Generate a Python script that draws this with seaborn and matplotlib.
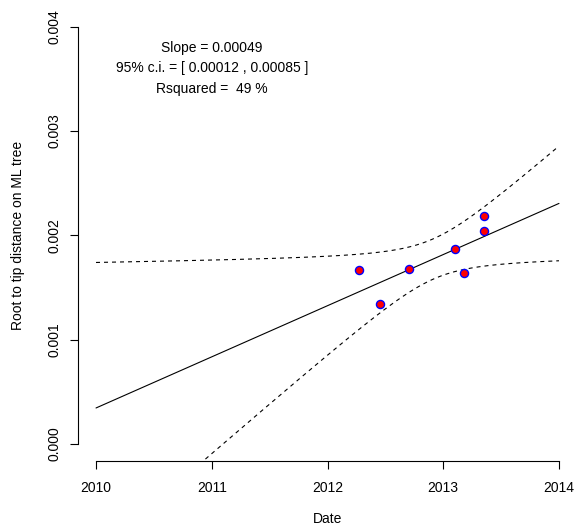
import numpy as np
import pandas as pd
import matplotlib
matplotlib.use("Agg")
import matplotlib.pyplot as plt
import seaborn as sns

# Sampling dates and root-to-tip distances
dates = [2012.27, 2012.70, 2012.45, 2013.10, 2013.18, 2013.35, 2013.35]
distances = [0.001666, 0.001676, 0.00134, 0.00187, 0.00164, 0.002185, 0.00204]

x_ticks = [2010, 2011, 2012, 2013, 2014]
y_ticks = [0.000, 0.001, 0.002, 0.003, 0.004]
annotation_lines = [
    "Slope = 0.00049",
    "95% c.i. = [ 0.00012 , 0.00085 ]",
    "Rsquared =  49 %",
]
annotation_y = [0.0038, 0.0036, 0.0034]

sns.set_theme(style="white")
plt.rcParams["font.family"] = ["Liberation Sans", "DejaVu Sans"]
plt.rcParams["text.color"] = "black"

W, H = 574, 526
fig = plt.figure(figsize=(W / 100, H / 100), dpi=100)
# plot region in pixels: x 77.5..577.5, y 10..460.7 (from top)
ax = fig.add_axes([77.5 / W, (H - 460.7) / H, 500 / W, 450.7 / H])

df = pd.DataFrame({"date": dates, "dist": distances})

# least-squares fit with a 95% confidence band for the mean
x = np.asarray(dates)
y = np.asarray(distances)
n = len(x)
slope, intercept = np.polyfit(x, y, 1)
resid = y - (slope * x + intercept)
s = np.sqrt(np.sum(resid ** 2) / (n - 2))
sxx = np.sum((x - x.mean()) ** 2)
t975 = 2.5706  # Student t, 5 degrees of freedom
grid = np.linspace(2010, 2014, 300)
fit = slope * grid + intercept
half = t975 * s * np.sqrt(1 / n + (grid - x.mean()) ** 2 / sxx)
band = pd.DataFrame({"date": grid, "fit": fit, "lo": fit - half, "hi": fit + half})

sns.lineplot(data=band, x="date", y="fit", color="black", lw=0.8, ax=ax)
for col in ("lo", "hi"):
    sns.lineplot(data=band, x="date", y=col, color="black", lw=0.8,
                 linestyle=(0, (3.6, 3.6)), ax=ax)

sns.scatterplot(data=df, x="date", y="dist", color="red", edgecolor="blue",
                s=34, linewidth=1.0, ax=ax, zorder=5)

for txt, yy in zip(annotation_lines, annotation_y):
    ax.text(2011, yy, txt, ha="center", va="center", fontsize=10, color="black")

ax.set_xlim(2009.84, 2014.16)
ax.set_ylim(-0.00016, 0.00416)
ax.set_xticks(x_ticks)
ax.set_xticklabels([str(v) for v in x_ticks])
ax.set_yticks(y_ticks)
ax.set_yticklabels([f"{v:.3f}" for v in y_ticks], rotation=90, va="center")

for side in ("top", "right"):
    ax.spines[side].set_visible(False)
ax.spines["bottom"].set_bounds(2010, 2014)
ax.spines["left"].set_bounds(0, 0.004)
for side in ("bottom", "left"):
    ax.spines[side].set_color("black")
    ax.spines[side].set_linewidth(0.8)
ax.tick_params(axis="both", which="major", direction="out", length=5.5,
               width=0.8, color="black", labelsize=10, labelcolor="black",
               bottom=True, left=True)
ax.tick_params(axis="x", pad=9)
ax.tick_params(axis="y", pad=6)
ax.set_xlabel("")
ax.set_ylabel("")
ax.grid(False)

fig.text(328 / W, 1 - 519 / H, "Date", ha="center", va="center", fontsize=10,
         color="black")
fig.text(18 / W, 1 - 235 / H, "Root to tip distance on ML tree", ha="center",
         va="center", rotation=90, fontsize=10, color="black")

fig.savefig("out.png", dpi=100, facecolor="white")
